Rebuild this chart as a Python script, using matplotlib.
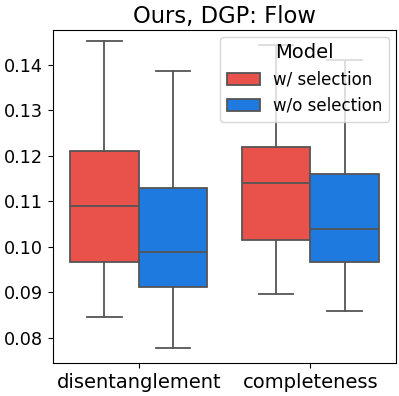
import matplotlib
matplotlib.use("Agg")
import matplotlib.pyplot as plt
from matplotlib.patches import Patch

categories = ["disentanglement", "completeness"]
models = ["w/ selection", "w/o selection"]
colors = ["#E8524A", "#1F7AE0"]

# per model: values per category
whislo = {"w/ selection": [0.0845, 0.0896], "w/o selection": [0.0778, 0.0858]}
q1 = {"w/ selection": [0.0966, 0.1015], "w/o selection": [0.0911, 0.0966]}
med = {"w/ selection": [0.1090, 0.1139], "w/o selection": [0.0989, 0.1039]}
q3 = {"w/ selection": [0.1210, 0.1219], "w/o selection": [0.1128, 0.1159]}
whishi = {"w/ selection": [0.1451, 0.1444], "w/o selection": [0.1385, 0.1411]}

fig = plt.figure(figsize=(3.99, 3.96), dpi=100)
ax = fig.add_axes([53/399, 1 - 363/396, 343/399, 333/396])

linecol = "#555555"
lw = 1.3
offsets = [-0.2, 0.2]
for m, model in enumerate(models):
    stats = []
    for i in range(len(categories)):
        stats.append(dict(whislo=whislo[model][i], q1=q1[model][i], med=med[model][i],
                          q3=q3[model][i], whishi=whishi[model][i], fliers=[]))
    pos = [i + offsets[m] for i in range(len(categories))]
    ax.bxp(stats, positions=pos, widths=0.4, patch_artist=True, showfliers=False,
           boxprops=dict(facecolor=colors[m], edgecolor=linecol, linewidth=lw),
           medianprops=dict(color=linecol, linewidth=lw),
           whiskerprops=dict(color=linecol, linewidth=lw),
           capprops=dict(color=linecol, linewidth=lw), capwidths=0.2)

ax.set_xlim(-0.5, 1.5)
ax.set_ylim(0.0744, 0.1476)
ax.set_xticks(range(len(categories)))
ax.set_xticklabels(categories, fontsize=14)
ax.set_yticks([0.08, 0.09, 0.10, 0.11, 0.12, 0.13, 0.14])
ax.set_yticklabels(["0.08", "0.09", "0.10", "0.11", "0.12", "0.13", "0.14"], fontsize=12.7)
ax.set_title("Ours, DGP: Flow", fontsize=16.3, pad=5)

handles = [Patch(facecolor=colors[m], edgecolor=linecol, linewidth=lw, label=models[m]) for m in range(2)]
ax.legend(handles=handles, title="Model", loc="upper right", fontsize=12, title_fontsize=14,
          borderaxespad=0.4)

fig.savefig("out.png", dpi=100)
